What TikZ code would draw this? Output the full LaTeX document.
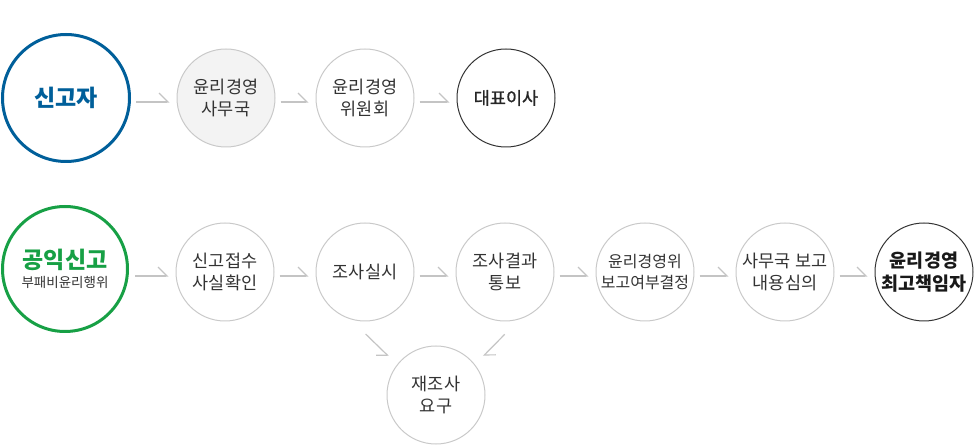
\documentclass[tikz,border=0pt]{standalone}
\usepackage{fontspec}
\setmainfont{Noto Sans CJK KR}
\newfontfamily\krmid[FakeBold=1]{Noto Sans CJK KR}
\usetikzlibrary{arrows.meta}

\definecolor{reportblue}{HTML}{005F9A}
\definecolor{reportgreen}{HTML}{17A045}
\definecolor{ringgray}{HTML}{C9C9C9}
\definecolor{arrowgray}{HTML}{C4C4C4}
\definecolor{txtgray}{HTML}{333333}
\definecolor{officefill}{HTML}{F3F3F3}

\begin{document}
\begin{tikzpicture}[x=1pt,y=-1pt,
    stage/.style={circle, draw=ringgray, line width=1pt, minimum size=98pt, inner sep=0pt,
        align=center, text=txtgray, font=\fontsize{17.5}{22.5}\selectfont},
    bigstage/.style={stage, line width=3pt, minimum size=127pt},
    flow/.style={draw=arrowgray, line width=1.2pt, shorten <=5pt, shorten >=7pt},
    flowh/.style={flow, -{Straight Barb[left,length=9pt,width=18pt]}, transform canvas={yshift=-4pt}}]

    \useasboundingbox (0,0) rectangle (975,446);

    % 第一行: 신고자 -> 대표이사
    \node[bigstage, draw=reportblue, text=reportblue, font=\bfseries\fontsize{23}{26}\selectfont] (reporter) at (66,98) {신고자};
    \node[stage, fill=officefill] (office) at (226,98) {윤리경영\\사무국};
    \node[stage] (committee) at (365,98) {윤리경영\\위원회};
    \node[stage, draw=txtgray, text=black!85, font=\krmid\fontsize{17.5}{22}\selectfont] (ceo) at (506,98) {대표이사};

    % 第二行: 공익신고 -> 최고책임자
    \node[bigstage, draw=reportgreen, minimum size=125pt] (public) at (65,269)
        {{\bfseries\fontsize{23}{26}\selectfont\color{reportgreen}공익신고}\\[-3pt]{\fontsize{13.5}{16}\selectfont 부패비윤리행위}};
    \foreach \x/\n/\t in {225/accept/{신고접수\\사실확인}, 365/exam/조사실시,
                          505/result/{조사결과\\통보}, 785/review/{사무국 보고\\내용심의}} {
        \node[stage] (\n) at (\x,272) {\t};
    }
    \node[stage, font=\fontsize{16}{21}\selectfont] (decide) at (645,272) {윤리경영위\\보고여부결정};
    \node[stage, draw=txtgray, text=black!90, font=\bfseries\fontsize{18.5}{23}\selectfont] (chief) at (924,272) {윤리경영\\최고책임자};

    % 재조사 요구
    \node[stage] (redo) at (436,395) {재조사\\요구};

    % 横向箭头
    \foreach \a/\b in {reporter/office, office/committee, committee/ceo,
                       accept/exam, exam/result, result/decide, decide/review, review/chief} {
        \draw[flowh] (\a) -- (\b);
    }
    \draw[flowh, shorten <=6pt] (public.east |- accept) -- (accept);

    % 斜向箭头 (재조사)
    \draw[flow, -{Straight Barb[right,length=8pt,width=16pt]}, shorten <=21pt, shorten >=12pt] (exam.253) -- (redo.142);
    \draw[flow, -{Straight Barb[left,length=8pt,width=16pt]}, shorten <=21pt, shorten >=12pt] (result.287) -- (redo.38);
\end{tikzpicture}
\end{document}
